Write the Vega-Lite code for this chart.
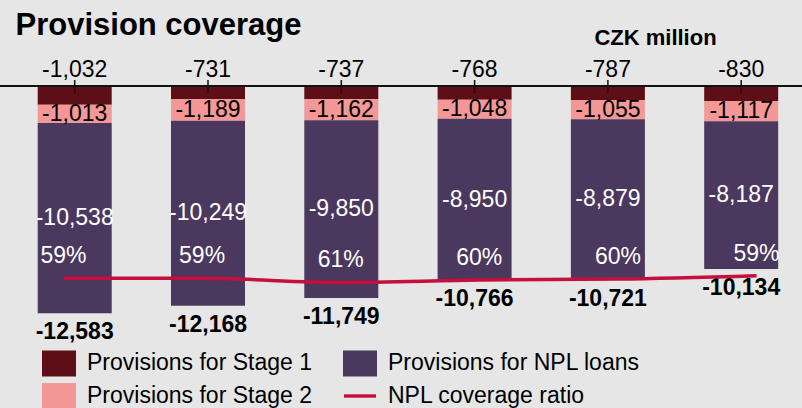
{
  "$schema": "https://vega.github.io/schema/vega-lite/v6.json",
  "width": 802,
  "height": 408,
  "autosize": {"type": "none"},
  "padding": 0,
  "background": "#e6e6e6",
  "config": {
    "view": {"stroke": null},
    "font": "Liberation Sans",
    "locale": {"number": {"decimal": ".", "thousands": ",", "grouping": [3], "currency": ["$", ""], "minus": "-", "percent": "%"}},
    "axis": {"labels": false, "ticks": false, "domain": false, "grid": false, "titleAngle": 0, "titleColor": "#000000", "titleFontWeight": "bold", "titleFont": "Liberation Sans", "titleBaseline": "alphabetic"},
    "axisLeft": {"titleX": 15, "titleY": 34, "titleAlign": "left", "titleFontSize": 31},
    "axisRight": {"titleX": -147, "titleY": 44, "titleAlign": "center", "titleFontSize": 22}
  },
  "datasets": {
    "bars": [
      {"period": 1, "series": "Provisions for Stage 1", "ord": 1, "value": -1032},
      {"period": 1, "series": "Provisions for Stage 2", "ord": 2, "value": -1013},
      {"period": 1, "series": "Provisions for NPL loans", "ord": 3, "value": -10538},
      {"period": 2, "series": "Provisions for Stage 1", "ord": 1, "value": -731},
      {"period": 2, "series": "Provisions for Stage 2", "ord": 2, "value": -1189},
      {"period": 2, "series": "Provisions for NPL loans", "ord": 3, "value": -10249},
      {"period": 3, "series": "Provisions for Stage 1", "ord": 1, "value": -737},
      {"period": 3, "series": "Provisions for Stage 2", "ord": 2, "value": -1162},
      {"period": 3, "series": "Provisions for NPL loans", "ord": 3, "value": -9850},
      {"period": 4, "series": "Provisions for Stage 1", "ord": 1, "value": -768},
      {"period": 4, "series": "Provisions for Stage 2", "ord": 2, "value": -1048},
      {"period": 4, "series": "Provisions for NPL loans", "ord": 3, "value": -8950},
      {"period": 5, "series": "Provisions for Stage 1", "ord": 1, "value": -787},
      {"period": 5, "series": "Provisions for Stage 2", "ord": 2, "value": -1055},
      {"period": 5, "series": "Provisions for NPL loans", "ord": 3, "value": -8879},
      {"period": 6, "series": "Provisions for Stage 1", "ord": 1, "value": -830},
      {"period": 6, "series": "Provisions for Stage 2", "ord": 2, "value": -1117},
      {"period": 6, "series": "Provisions for NPL loans", "ord": 3, "value": -8187}
    ],
    "totals": [
      {"period": 1, "total": -12583},
      {"period": 2, "total": -12168},
      {"period": 3, "total": -11749},
      {"period": 4, "total": -10766},
      {"period": 5, "total": -10721},
      {"period": 6, "total": -10134}
    ],
    "ratio": [
      {"period": 1, "ratio": 0.594},
      {"period": 2, "ratio": 0.594},
      {"period": 3, "ratio": 0.606},
      {"period": 4, "ratio": 0.599},
      {"period": 5, "ratio": 0.596},
      {"period": 6, "ratio": 0.586}
    ],
    "legend": [
      {"series": "Provisions for Stage 1"},
      {"series": "Provisions for Stage 2"},
      {"series": "Provisions for NPL loans"},
      {"series": "NPL coverage ratio"}
    ]
  },
  "resolve": {"scale": {"x": "independent", "y": "independent"}},
  "layer": [
    {
      "layer": [
        {
          "data": {"name": "bars"},
          "mark": {"type": "bar", "opacity": 1},
          "encoding": {
            "x": {"field": "period", "type": "ordinal", "axis": null, "scale": {"paddingInner": 0.4449, "paddingOuter": 0.2307, "align": 0.613, "round": false}},
            "y": {"field": "value", "type": "quantitative", "stack": "zero", "title": "Provision coverage", "scale": {"domain": [-17839, 4765], "nice": false, "zero": false}},
            "color": {
              "field": "series", "type": "nominal",
              "scale": {"domain": ["Provisions for Stage 1", "Provisions for Stage 2", "Provisions for NPL loans", "NPL coverage ratio"], "range": ["#5e0e16", "#f49797", "#4b385e", "#c50f3c"]},
              "legend": {"title": null, "orient": "none", "legendX": 42, "legendY": 346, "columns": 2, "symbolSize": 1156, "symbolOpacity": 1, "labelFontSize": 23, "labelFont": "Liberation Sans", "labelOffset": 11, "columnPadding": 30, "rowPadding": 2, "padding": 0, "symbolStrokeWidth": 0, "labelLimit": 0, "labelColor": "#000000"}
            },
            "order": {"field": "ord", "type": "quantitative"}
          }
        },
        {
          "data": {"values": [{"base": 0}]},
          "mark": {"type": "rule", "color": "#111111", "strokeWidth": 2},
          "encoding": {
            "y": {"field": "base", "type": "quantitative", "title": "Provision coverage"}
          }
        },
        {
          "data": {"name": "totals"},
          "mark": {"type": "rule", "color": "#111111", "strokeWidth": 1.5},
          "encoding": {
            "x": {"field": "period", "type": "ordinal", "axis": null},
            "y": {"datum": 332, "type": "quantitative", "title": "Provision coverage"},
            "y2": {"datum": -388}
          }
        },
        {
          "data": {"name": "bars"},
          "mark": {"type": "text", "fontSize": 23, "baseline": "middle"},
          "encoding": {
            "x": {"field": "period", "type": "ordinal", "axis": null},
            "y": {"field": "value", "type": "quantitative", "stack": "zero", "bandPosition": 0.5, "title": "Provision coverage"},
            "detail": {"field": "series", "type": "nominal"},
            "order": {"field": "ord", "type": "quantitative"},
            "text": {"condition": {"test": "datum.ord === 1", "value": ""}, "field": "value", "type": "quantitative", "format": ","},
            "fill": {"condition": {"test": "datum.ord === 3", "value": "#ffffff"}, "value": "#000000"}
          }
        },
        {
          "data": {"name": "bars"},
          "transform": [{"filter": "datum.ord === 1"}],
          "mark": {"type": "text", "fontSize": 23, "baseline": "alphabetic", "dy": -9, "color": "#000000"},
          "encoding": {
            "x": {"field": "period", "type": "ordinal", "axis": null},
            "y": {"datum": 0, "type": "quantitative", "title": "Provision coverage"},
            "text": {"field": "value", "type": "quantitative", "format": ","}
          }
        },
        {
          "data": {"name": "totals"},
          "mark": {"type": "text", "fontSize": 23, "fontWeight": "bold", "baseline": "top", "dy": 8, "color": "#000000"},
          "encoding": {
            "x": {"field": "period", "type": "ordinal", "axis": null},
            "y": {"field": "total", "type": "quantitative", "title": "Provision coverage"},
            "text": {"field": "total", "type": "quantitative", "format": ","}
          }
        },
        {
          "data": {"name": "legend"},
          "mark": {"type": "point", "filled": true, "size": 0, "opacity": 1},
          "encoding": {
            "color": {
              "field": "series", "type": "nominal",
              "legend": {"title": null, "orient": "none", "legendX": 42, "legendY": 346, "columns": 2, "symbolSize": 1156, "symbolOpacity": 1, "labelFontSize": 23, "labelFont": "Liberation Sans", "labelOffset": 11, "columnPadding": 30, "rowPadding": 2, "padding": 0, "symbolStrokeWidth": 0, "labelLimit": 0, "labelColor": "#000000"}
            },
            "shape": {
              "field": "series", "type": "nominal",
              "scale": {"domain": ["Provisions for Stage 1", "Provisions for Stage 2", "Provisions for NPL loans", "NPL coverage ratio"], "range": ["M-1,-0.765H1V0.765H-1Z", "M-1,-0.765H1V0.765H-1Z", "M-1,-0.765H1V0.765H-1Z", "M-0.94,-0.1H0.94V0.1H-0.94Z"]},
              "legend": {"title": null, "orient": "none", "legendX": 42, "legendY": 346, "columns": 2, "symbolSize": 1156, "symbolOpacity": 1, "labelFontSize": 23, "labelFont": "Liberation Sans", "labelOffset": 11, "columnPadding": 30, "rowPadding": 2, "padding": 0, "symbolStrokeWidth": 0, "labelLimit": 0, "labelColor": "#000000"}
            }
          }
        }
      ]
    },
    {
      "layer": [
        {
          "data": {"name": "ratio"},
          "mark": {"type": "line", "color": "#c50f3c", "strokeWidth": 3.5, "interpolate": "monotone"},
          "encoding": {
            "x": {"field": "period", "type": "ordinal", "axis": null, "scale": {"type": "point", "padding": 0.393, "align": 0.5826, "round": false}},
            "y": {"field": "ratio", "type": "quantitative", "title": "CZK million", "axis": {"orient": "right"}, "scale": {"domain": [-0.2271, 0.9764], "reverse": true, "nice": false, "zero": false}}
          }
        },
        {
          "data": {"name": "ratio"},
          "mark": {"type": "text", "fontSize": 23, "baseline": "middle", "dy": -22, "color": "#ffffff"},
          "encoding": {
            "x": {"field": "period", "type": "ordinal", "axis": null},
            "y": {"field": "ratio", "type": "quantitative", "title": "CZK million", "axis": {"orient": "right"}},
            "text": {"field": "ratio", "type": "quantitative", "format": ".0%"}
          }
        }
      ]
    }
  ]
}
